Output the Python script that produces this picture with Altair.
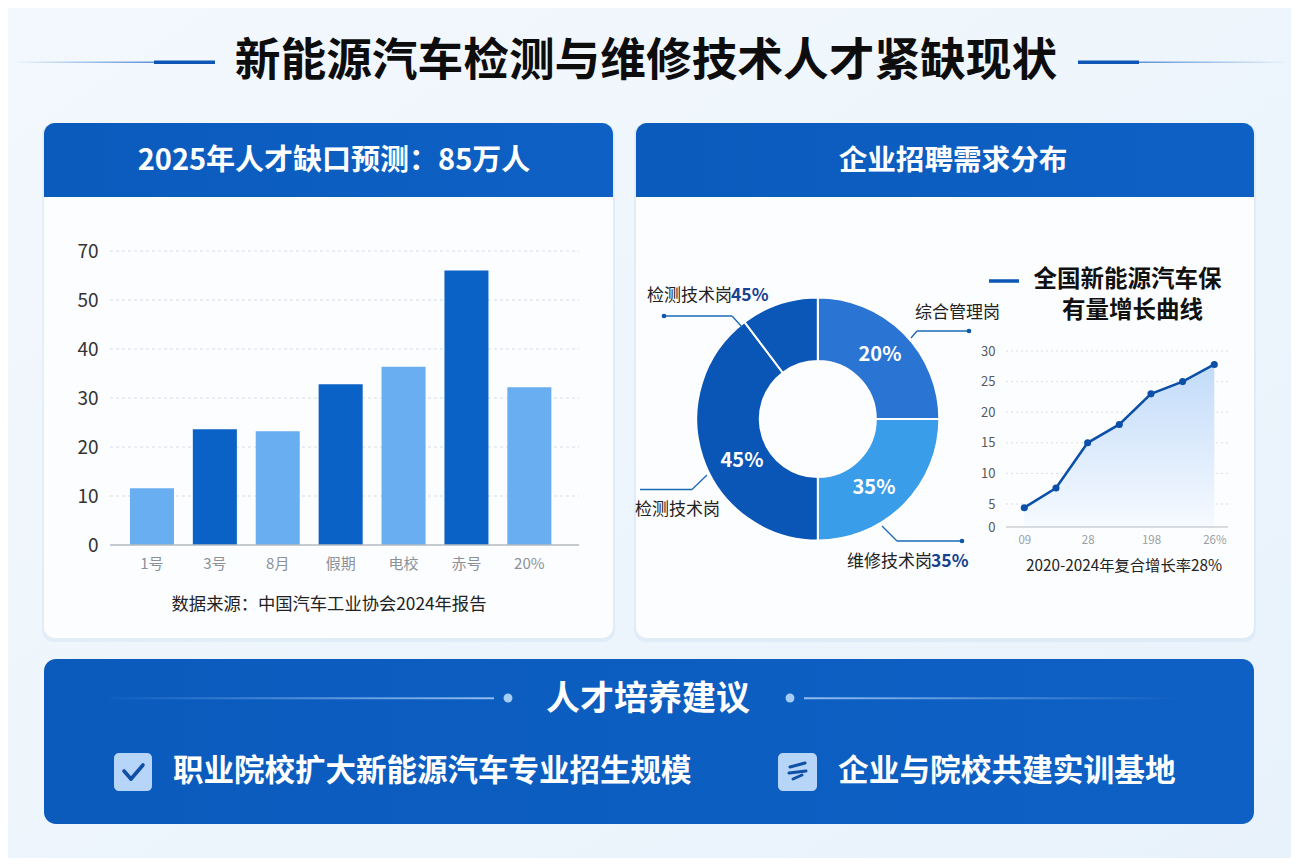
import altair as alt
import pandas as pd

FONT = "Noto Sans CJK SC"
W, H = 1283, 850

# ---- data ----
bar_labels = ["1号", "3号", "8月", "假期", "电校", "赤号", "20%"]
bar_values = [11.6, 23.6, 23.2, 32.8, 36.4, 62.0, 32.2]
bar_tones = ["light", "dark", "light", "dark", "light", "dark", "light"]
bar_ticks = [0, 10, 20, 30, 40, 50, 70]

pie_names = ["综合管理岗", "维修技术岗", "检测技术岗", "检测技术岗2"]
pie_shares = [25.0, 25.0, 39.7, 10.3]
pie_colors = ["#2a74d4", "#3a9de9", "#0a56b6", "#0a57b8"]

line_x = [0, 1, 2, 3, 4, 5, 6]
line_y = [4.2, 7.6, 15.0, 18.0, 23.0, 25.0, 27.8]
line_ticks = [0, 5, 10, 15, 20, 25, 30]
line_xlabels = ["09", "28", "198", "26%"]


def px(v):
    return alt.value(v - 8)


ONE = pd.DataFrame({"a": [0]})


def box(x0, y0, x1, y1, fill, **kw):
    return alt.Chart(ONE).mark_rect(fill=fill, **kw).encode(
        x=px(x0), x2=px(x1), y=px(y0), y2=px(y1))


def seg(x0, y0, x1, y1, color, width=1.5, **kw):
    return alt.Chart(ONE).mark_rule(color=color, strokeWidth=width, **kw).encode(
        x=px(x0), x2=px(x1), y=px(y0), y2=px(y1))


def dot(x, y, r, color):
    return alt.Chart(ONE).mark_point(filled=True, color=color, opacity=1, size=3.14 * r * r).encode(
        x=px(x), y=px(y))


def label(s, x, y, size, color="#222222", weight="normal", align="center"):
    return alt.Chart(ONE).mark_text(text=s, fontSize=size, color=color, fontWeight=weight,
                                    align=align, baseline="middle", font=FONT).encode(
        x=px(x), y=px(y + 1))


def hgrad(c0, c1, x0=0, x1=1):
    return alt.Gradient(gradient="linear", x1=x0, x2=x1, y1=0, y2=0,
                        stops=[alt.GradientStop(offset=0, color=c0),
                               alt.GradientStop(offset=1, color=c1)])


layers = []

# page background
layers.append(box(8, 8, 1299, 866, alt.Gradient(
    gradient="linear", x1=0, x2=1, y1=0, y2=1,
    stops=[alt.GradientStop(offset=0, color="#f3f8fd"),
           alt.GradientStop(offset=0.55, color="#edf5fc"),
           alt.GradientStop(offset=1, color="#e8f2fb")])))

# title
layers.append(label("新能源汽车检测与维修技术人才紧缺现状", 646, 61, 45.7, "#0d0d0d", "bold"))
layers.append(box(15, 61.5, 155, 63, hgrad("#eef5fc", "#5b93d6")))
layers.append(box(154, 60.5, 215, 64, "#0d56b5"))
layers.append(box(1078, 60.5, 1139, 64, "#0d56b5"))
layers.append(box(1139, 61.5, 1290, 63, hgrad("#5b93d6", "#eef5fc")))

# panels
BLUE = hgrad("#0b5bbd", "#0e60c4")
for x0, x1 in [(44, 613), (636, 1254)]:
    layers.append(box(x0 - 2, 123, x1 + 2, 642, "#bcd3ec", cornerRadius=12, opacity=0.25))
    layers.append(box(x0, 123, x1, 638, "#fcfdff", cornerRadius=11))
    layers.append(box(x0, 123, x1, 197, BLUE, cornerRadiusTopLeft=11, cornerRadiusTopRight=11))
layers.append(box(44, 659, 1254, 824, BLUE, cornerRadius=12))

layers.append(label("2025年人才缺口预测：85万人", 334, 160, 29, "#ffffff", "bold"))
layers.append(label("企业招聘需求分布", 953, 160, 28.6, "#ffffff", "bold"))

# ---- bar chart ----
bar_df = pd.DataFrame({"cat": bar_labels, "v": bar_values, "tone": bar_tones})
bar_y = alt.Scale(domain=[0, 50, 70], range=[545 - 8, 300 - 8, 251 - 8], nice=False, zero=False)
bar_x = alt.Scale(type="band", domain=bar_labels, range=[120.5 - 8, 560.8 - 8], paddingInner=0.3, paddingOuter=0.15)

grid_df = pd.DataFrame({"t": bar_ticks[1:]})
layers.append(alt.Chart(grid_df).mark_rule(color="#d6dde5", strokeWidth=1, strokeDash=[3, 3]).encode(
    y=alt.Y("t:Q", scale=bar_y, axis=None), x=px(110), x2=px(579)))

layers.append(alt.Chart(bar_df).mark_bar().encode(
    x=alt.X("cat:N", scale=bar_x, sort=None, title=None,
            axis=alt.Axis(orient="bottom", offset=-(H - (545 - 8)), domain=False, ticks=False, zindex=2,
                          labelFontSize=15, labelColor="#8c9197", labelPadding=11, labelAngle=0,
                          labelFont=FONT, grid=False)),
    y=alt.Y("v:Q", scale=bar_y, title=None,
            axis=alt.Axis(orient="left", offset=-(102 - 8), values=bar_ticks, domain=False, ticks=False, zindex=2,
                          labelFontSize=19, labelColor="#333333", labelPadding=4, labelFlush=False,
                          labelFont=FONT, grid=False)),
    color=alt.Color("tone:N", legend=None,
                    scale=alt.Scale(domain=["light", "dark"], range=["#6aaef2", "#0b62c6"])),
))
layers.append(seg(110, 545, 579, 545, "#b5babf", 1.5))
layers.append(label("数据来源：中国汽车工业协会2024年报告", 329, 604, 17.3))

# ---- donut ----
pie_df = pd.DataFrame({"name": pie_names, "share": pie_shares, "i": list(range(4))})
layers.append(alt.Chart(pie_df).mark_arc(outerRadius=121.5, innerRadius=58, stroke="#ffffff", strokeWidth=2).encode(
    theta=alt.Theta("share:Q", stack=True),
    order=alt.Order("i:Q"),
    color=alt.Color("name:N", legend=None, scale=alt.Scale(domain=pie_names, range=pie_colors)),
    x=px(817.8), y=px(419)))
layers.append(label("20%", 880, 354, 20, "#ffffff", "bold"))
layers.append(label("35%", 874, 487, 20, "#ffffff", "bold"))
layers.append(label("45%", 742, 460, 20, "#ffffff", "bold"))

LEAD = "#1a68b8"
for pts, end in [
    ([(664, 316), (732, 316), (742, 327)], (664, 316)),
    ([(969, 331), (917, 331), (911, 338)], (969, 331)),
    ([(640, 489.5), (692, 489.5), (707, 475)], None),
    ([(962, 541), (897, 541), (882, 526)], (962, 541)),
]:
    for a, b in zip(pts[:-1], pts[1:]):
        layers.append(seg(a[0], a[1], b[0], b[1], LEAD, 1.3))
    if end:
        layers.append(dot(end[0], end[1], 2.6, "#0d56a8"))

NAVY = "#17428f"
layers.append(label("检测技术岗", 647, 295, 17, align="left"))
layers.append(label("45%", 731, 295, 17.5, NAVY, "bold", "left"))
layers.append(label("综合管理岗", 915, 312, 17, align="left"))
layers.append(label("检测技术岗", 635, 509, 17, align="left"))
layers.append(label("维修技术岗", 847, 561, 17, align="left"))
layers.append(label("35%", 931, 561, 17.5, NAVY, "bold", "left"))

# ---- line chart ----
layers.append(seg(989, 281, 1019, 281, "#0d56b5", 3.5))
layers.append(label("全国新能源汽车保", 1127.5, 279, 23.5, "#111111", "bold"))
layers.append(label("有量增长曲线", 1132.5, 310, 23.5, "#111111", "bold"))

line_df = pd.DataFrame({"x": line_x, "y": line_y})
ln_y = alt.Scale(domain=[0, 5, 30], range=[527 - 8, 504 - 8, 351 - 8], nice=False, zero=False)
ln_x = alt.Scale(domain=[0, 6], range=[1024.3 - 8, 1214.3 - 8], nice=False, zero=False)

layers.append(alt.Chart(pd.DataFrame({"t": line_ticks[1:]})).mark_rule(
    color="#d8dfe6", strokeWidth=1, strokeDash=[2, 3]).encode(
    y=alt.Y("t:Q", scale=ln_y, axis=None), x=px(1006), x2=px(1228)))

layers.append(alt.Chart(line_df).mark_area(color=alt.Gradient(
    gradient="linear", x1=0, x2=0, y1=0, y2=1,
    stops=[alt.GradientStop(offset=0, color="#c2dbf9"),
           alt.GradientStop(offset=1, color="#f6faff")])).encode(
    x=alt.X("x:Q", scale=ln_x, title=None, axis=None),
    y=alt.Y("y:Q", scale=ln_y, title=None, axis=None)))
layers.append(seg(1006, 527, 1228, 527, "#b5babf", 1.2))
layers.append(alt.Chart(line_df).mark_line(color="#0b4fa8", strokeWidth=2.5,
                                           point=alt.OverlayMarkDef(color="#0b4fa8", filled=True, size=50, opacity=1)).encode(
    x=alt.X("x:Q", scale=ln_x, title=None,
            axis=alt.Axis(orient="bottom", offset=-(H - (527 - 8)), values=[0, 2, 4, 6], domain=False, ticks=False, zindex=2,
                          labelFontSize=11.5, labelColor="#9a9fa5", labelPadding=7, grid=False, labelFont=FONT,
                          labelFlush=False, labelExpr="['09','28','198','26%'][datum.value/2]")),
    y=alt.Y("y:Q", scale=ln_y, title=None,
            axis=alt.Axis(orient="left", offset=-(998 - 8), values=line_ticks, domain=False, ticks=False, zindex=2,
                          labelFontSize=13, labelColor="#555a60", labelPadding=3, labelFlush=False, grid=False, labelFont=FONT)),
))
layers.append(label("2020-2024年复合增长率28%", 1124, 565, 15.3))

# ---- recommendations ----
layers.append(label("人才培养建议", 648, 699, 34, "#ffffff", "bold"))
layers.append(box(110, 697.2, 494, 699.2, hgrad("#0e5ec2", "#8fbdf0")))
layers.append(box(804, 697.2, 1185, 699.2, hgrad("#8fbdf0", "#0e5ec2")))
layers.append(dot(508, 698, 5, "#a6cdf6"))
layers.append(dot(790, 698, 5, "#a6cdf6"))

layers.append(box(114, 753, 152, 791, "#b6d5f8", cornerRadius=5))
layers.append(box(778, 753, 817, 791, "#b6d5f8", cornerRadius=5))
for a, b in [((124, 771), (131, 779)), ((131, 779), (143, 765))]:
    layers.append(seg(a[0], a[1], b[0], b[1], "#0f4fa6", 3.6, strokeCap="round"))
for a, b in [((790, 767), (805, 763)), ((789, 773), (806, 771)), ((793, 779), (802, 775))]:
    layers.append(seg(a[0], a[1], b[0], b[1], "#0f4fa6", 3.0, strokeCap="round"))
layers.append(label("职业院校扩大新能源汽车专业招生规模", 173, 771, 30.5, "#ffffff", "bold", "left"))
layers.append(label("企业与院校共建实训基地", 838, 771, 30.7, "#ffffff", "bold", "left"))

chart = alt.layer(*layers).resolve_scale(
    x="independent", y="independent", color="independent", theta="independent"
).properties(
    width=W, height=H, padding=0,
    autosize=alt.AutoSizeParams(type="none", contains="padding"),
    background="#edf5fc",
).configure_view(stroke=None).configure(font=FONT)

chart.save("out.html", embed_options={"renderer": "svg", "actions": False})
